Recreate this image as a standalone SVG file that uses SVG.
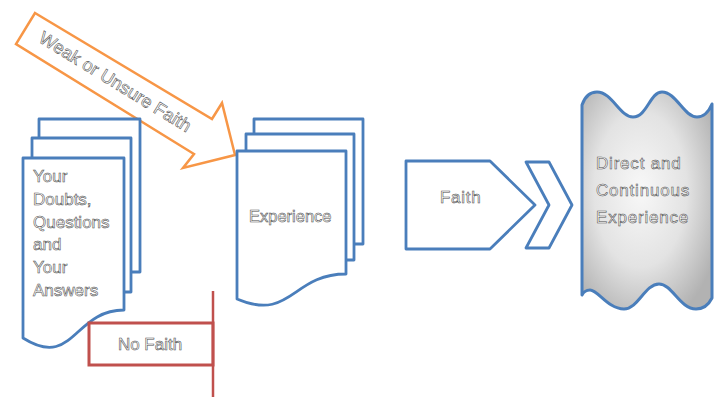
<svg xmlns="http://www.w3.org/2000/svg" width="726" height="408" viewBox="0 0 726 408">
<defs>
<radialGradient id="g" cx="0.45" cy="0.45" r="0.65">
<stop offset="0" stop-color="#f8f8f8"/>
<stop offset="0.55" stop-color="#e3e3e3"/>
<stop offset="1" stop-color="#b2b2b2"/>
</radialGradient>
</defs>
<style>
.b{fill:#fff;stroke:#4a7ebb;stroke-width:2.8;stroke-linejoin:round}
.t{font-family:"Liberation Sans",Arial,sans-serif;font-size:17px;fill:#fff;stroke:#4a4a4a;stroke-width:0.55}
</style>
<rect width="726" height="408" fill="#fff"/>
<g id="arrow-weak">
<polygon points="35,13 212,119 222,103 235,155 183,168 194,154 16,44" fill="#fff" stroke="#f79646" stroke-width="2.5" stroke-linejoin="miter"/>
<text class="t" text-anchor="middle" transform="translate(112,87) rotate(31.5)" style="font-size:18px">Weak or Unsure Faith</text>
</g>
<g id="doubts">
<rect class="b" x="39" y="119" width="101" height="153"/>
<rect class="b" x="32" y="138" width="99" height="154"/>
<path class="b" d="M23,158 H124 V310 C73.5,310 73.5,370 23,338 Z"/>
<text class="t" x="33" y="182">Your</text>
<text class="t" x="33" y="204.8">Doubts,</text>
<text class="t" x="33" y="227.6">Questions</text>
<text class="t" x="33" y="250.4">and</text>
<text class="t" x="33" y="273.2">Your</text>
<text class="t" x="33" y="296">Answers</text>
</g>
<g id="experience">
<rect class="b" x="254" y="119" width="109" height="125"/>
<rect class="b" x="246" y="134" width="108" height="126"/>
<path class="b" d="M237,151 H346 V274 C291.5,274 291.5,322 237,299 Z"/>
<text class="t" x="249" y="222" style="font-size:16.5px">Experience</text>
</g>
<g id="faith">
<path class="b" d="M406,161 H490 L535,205 L490,249 H406 Z"/>
<text class="t" x="440" y="203" style="letter-spacing:0.7px">Faith</text>
</g>
<g id="chevron">
<path class="b" d="M526,162 H549 L572,205 L549,248 H526 L549,205 Z"/>
</g>
<g id="direct">
<path d="M582,105 C585,96 590,92 597,92 C612,92 620,117 633,117 C647,117 650,92 662,92 C676,92 684,117 697,117 C704,117 709,111 712,104 V298 C708,306 702,309 696,309 C680,309 672,284 659,284 C645,284 638,309 624,309 C608,309 598,290 590,290 C586,290 583,293 582,295 Z" fill="url(#g)" stroke="#4a7ebb" stroke-width="3" stroke-linejoin="round"/>
<text class="t" x="596" y="169" style="letter-spacing:0.8px">Direct and</text>
<text class="t" x="596" y="196" style="letter-spacing:0.8px">Continuous</text>
<text class="t" x="596" y="223" style="letter-spacing:0.8px">Experience</text>
</g>
<g id="nofaith">
<rect x="89" y="323" width="124" height="42" fill="#fff" stroke="#c0504d" stroke-width="3"/>
<text class="t" x="150" y="350" text-anchor="middle">No Faith</text>
</g>
<g id="connectors">
<line x1="213" y1="291" x2="213" y2="397" stroke="#c0504d" stroke-width="2.5"/>
</g>
</svg>
